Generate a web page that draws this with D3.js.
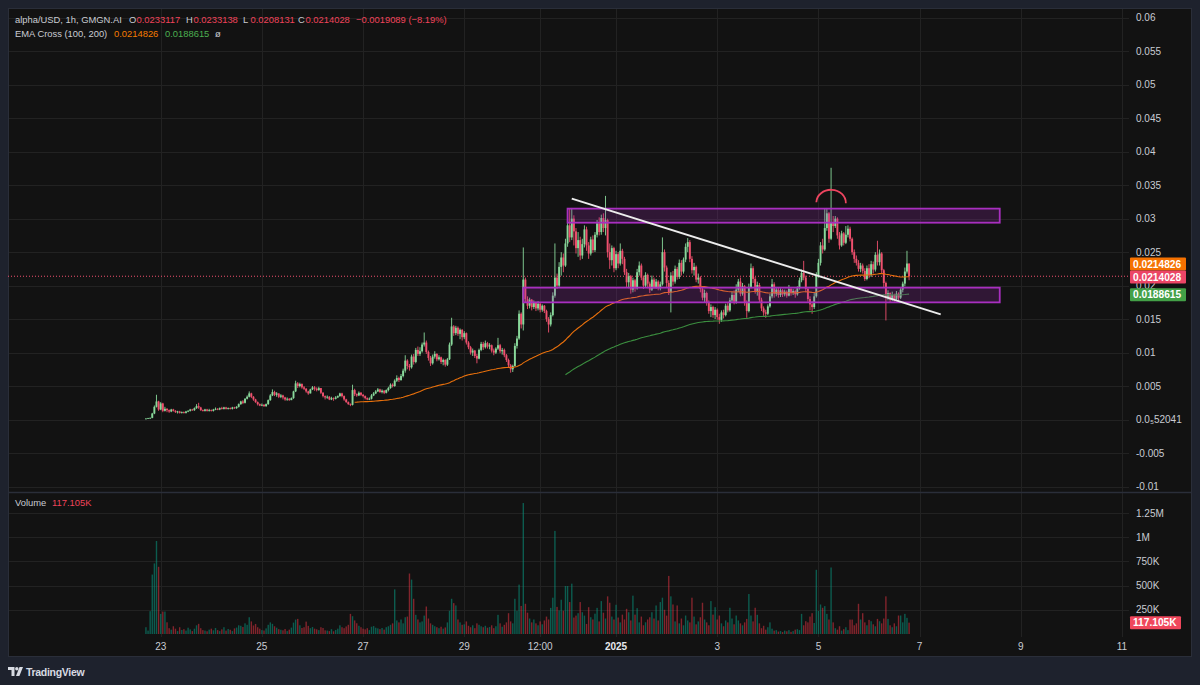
<!DOCTYPE html>
<html>
<head>
<meta charset="utf-8">
<script src="https://cdn.jsdelivr.net/npm/d3@7"></script>
<style>
  body { margin:0; background:#1e222d; }
  svg { display:block; }
  text { font-family: "Liberation Sans", Arial, sans-serif; }
</style>
</head>
<body>
<div id="chart"></div>
<script>
// CHART START
const width = 1200
const height = 685
const panel = {left:8, top:8, right:1191, bottom:656}
const plotRight = 1129
const pricePane = {top:8, bottom:492}
const volPane = {top:493, bottom:636}

// hourly candles, first one opens Dec 22 17:00 UTC; prices in 1/1000 USD
const firstBar = Date.UTC(2024, 11, 22, 17)
const firstOpenMilli = 0.1

const closeMilli = [
  0.15,0.2,0.25,0.9,1.9,2.7,1.5,2.4,1.3,1.6,
  1.4,1.2,1.5,1.3,1.1,1.2,1.0,1.1,1.0,1.2,
  1.3,1.5,1.4,1.7,2.0,1.8,1.4,1.3,1.5,1.3,
  1.4,1.3,1.5,1.6,1.5,1.7,1.6,1.8,1.6,1.7,
  1.6,1.8,1.7,1.9,2.3,2.7,2.5,3.1,3.4,3.9,
  3.4,3.0,2.6,2.3,2.1,2.2,2.0,2.3,2.9,3.6,
  4.1,3.7,3.9,3.4,3.6,3.3,3.0,3.1,2.9,3.2,
  4.2,5.4,5.0,5.3,4.8,4.6,4.2,3.9,4.5,4.8,
  4.6,4.4,4.7,4.0,3.5,3.3,3.4,3.0,3.2,3.1,
  3.3,3.5,3.9,3.5,3.0,2.6,2.3,2.2,4.4,3.8,
  3.6,4.0,3.7,3.5,3.2,3.0,3.1,3.6,3.9,4.2,
  4.5,4.1,4.3,4.0,4.4,4.7,5.2,5.0,5.8,6.2,
  5.9,6.5,7.3,8.8,8.0,7.8,9.4,8.6,10.4,9.8,
  10.2,11.2,11.5,10.1,9.2,8.4,9.4,9.8,9.0,9.3,
  8.6,8.9,8.2,9.0,11.2,13.9,12.9,13.7,12.8,13.4,
  12.3,12.9,11.5,10.8,10.0,10.3,9.5,9.1,10.4,11.3,
  10.8,11.4,10.9,11.1,10.3,10.0,10.6,11.1,10.2,10.4,
  9.6,8.9,8.1,7.5,8.0,11.0,12.1,15.8,14.2,20.9,
  18.0,17.0,17.9,16.8,17.4,16.6,17.3,16.4,17.0,16.2,
  15.0,14.2,15.6,18.5,21.2,20.0,22.8,24.2,23.0,26.3,
  29.0,27.2,30.0,28.1,25.6,26.8,24.5,26.2,28.4,26.0,
  24.8,26.9,25.3,27.6,29.3,28.0,30.1,28.6,29.8,25.0,
  23.8,25.6,22.6,24.7,23.3,25.2,24.0,22.0,20.5,21.4,
  19.4,20.8,19.6,22.0,23.0,21.2,20.0,21.6,20.3,19.4,
  20.9,19.8,20.6,19.6,20.2,25.0,22.7,20.4,19.0,21.5,
  20.6,22.5,21.3,23.4,22.1,23.9,25.8,26.5,24.0,22.3,
  22.8,20.9,21.2,19.5,18.2,18.9,17.4,16.2,16.8,15.6,
  16.4,15.3,14.9,16.0,15.6,17.0,16.3,17.8,18.6,17.6,
  19.4,20.6,18.8,19.9,17.5,16.2,19.8,22.6,21.0,19.2,
  20.1,17.9,16.6,16.0,15.8,16.9,18.4,20.2,18.8,19.4,
  18.6,19.3,18.7,19.1,18.5,19.5,18.9,19.2,18.7,19.6,
  20.8,21.9,21.2,19.5,18.0,17.2,16.8,18.4,21.5,23.4,
  26.0,25.4,28.6,30.8,27.0,29.5,28.9,30.0,27.5,26.0,
  27.8,26.4,27.6,28.5,27.0,25.0,24.0,23.4,22.5,23.0,
  22.2,21.0,22.6,21.6,23.2,22.4,24.6,23.5,24.8,22.3,
  20.4,18.3,18.9,17.9,18.6,18.0,18.8,18.2,19.4,20.3,22.1,23.3,21.4
]

const highMilli = [
  0.2,0.25,0.3,1.0,2.1,3.7,2.8,2.6,2.5,1.9,
  1.7,1.5,1.6,1.6,1.4,1.3,1.3,1.2,1.2,1.3,
  1.4,1.6,1.6,1.8,2.3,2.5,1.9,1.5,1.6,1.6,
  1.6,1.5,1.6,1.8,1.7,1.8,1.9,1.9,1.9,1.8,
  1.8,1.9,1.9,2.0,2.4,2.8,2.9,3.2,3.6,4.2,
  4.0,3.5,3.1,2.7,2.4,2.4,2.3,2.4,3.0,3.8,
  4.5,4.3,4.1,3.9,3.8,3.7,3.4,3.3,3.2,3.3,
  4.3,5.8,5.6,5.5,5.4,5.0,4.7,4.3,4.6,5.0,
  5.0,4.8,4.9,4.7,4.1,3.6,3.6,3.5,3.4,3.3,
  3.5,3.6,4.0,4.0,3.6,3.1,2.7,2.4,5.2,4.6,
  3.9,4.2,4.1,3.8,3.6,3.3,3.3,3.8,4.1,4.4,
  4.7,4.6,4.5,4.4,4.5,4.9,5.4,5.4,6.0,6.6,
  6.4,6.8,7.6,9.6,9.0,8.3,9.7,9.8,10.7,10.9,
  10.8,11.5,13.0,11.8,10.3,9.5,9.7,10.2,9.9,9.6,
  9.4,9.1,9.0,9.2,11.5,15.2,14.1,14.0,13.9,13.6,
  13.5,13.2,13.0,11.7,11.0,10.6,10.4,9.8,10.6,11.6,
  11.6,11.8,11.6,11.4,11.2,10.6,10.8,12.2,11.3,10.7,
  10.6,9.8,9.1,8.3,8.2,11.4,12.5,16.3,16.0,25.7,
  21.2,18.4,18.2,18.0,17.8,17.6,17.7,17.5,17.2,17.1,
  16.4,15.3,16.0,19.0,26.3,21.8,23.5,25.0,24.8,27.0,
  30.2,31.5,31.6,30.5,28.6,28.0,27.3,27.0,29.0,28.8,
  26.5,27.3,27.5,28.0,29.8,30.2,30.6,30.8,33.4,30.0,
  26.3,26.0,25.8,25.2,25.0,26.3,25.5,24.3,22.5,21.9,
  21.6,21.2,21.0,22.5,23.6,23.3,21.5,22.0,21.8,20.6,
  21.5,21.2,21.0,20.8,20.6,27.2,25.4,23.0,20.8,22.0,
  22.2,23.0,22.8,23.9,23.8,24.2,26.3,27.1,26.8,24.4,
  23.4,23.0,21.8,21.4,19.8,19.4,19.1,17.8,17.2,17.0,
  16.8,16.6,15.8,16.3,16.4,17.3,17.4,18.2,19.1,19.3,
  20.2,21.0,21.2,20.4,20.1,17.8,20.3,23.3,22.9,21.3,
  20.6,20.4,18.2,16.9,16.4,17.2,18.8,21.0,20.5,19.8,
  19.7,19.6,19.5,19.4,19.3,20.1,19.7,19.5,19.4,19.9,
  21.2,22.4,23.7,21.5,19.8,18.4,17.7,18.9,22.0,24.0,
  26.5,27.0,31.5,31.6,31.0,37.6,30.4,30.4,30.2,28.0,
  28.2,28.0,28.9,29.0,28.8,27.2,25.4,24.5,23.8,23.4,
  23.3,22.6,23.0,23.2,23.7,23.6,25.0,26.7,25.4,25.0,
  22.5,20.6,19.3,19.0,19.1,18.8,19.2,19.0,19.7,20.6,22.7,25.2,23.31
]

const lowMilli = [
  0.1,0.15,0.15,0.2,0.8,1.8,1.3,1.4,1.1,1.2,
  1.1,1.0,1.1,1.2,1.0,0.9,0.9,0.9,0.9,0.9,
  1.1,1.2,1.3,1.3,1.6,1.6,1.3,1.2,1.2,1.2,
  1.2,1.2,1.2,1.4,1.4,1.4,1.5,1.5,1.5,1.5,
  1.5,1.5,1.6,1.6,1.8,2.2,2.3,2.4,3.0,3.3,
  3.2,2.8,2.5,2.1,2.0,2.0,1.9,1.9,2.2,2.8,
  3.5,3.5,3.4,3.2,3.2,3.0,2.8,2.8,2.8,2.9,
  3.1,4.1,4.7,4.8,4.6,4.4,4.0,3.7,3.9,4.4,
  4.3,4.2,4.3,3.8,3.3,3.0,3.1,2.9,2.9,2.8,
  3.0,3.2,3.4,3.3,2.8,2.5,2.2,2.0,2.1,3.5,
  3.4,3.5,3.5,3.3,3.0,2.9,2.9,3.0,3.5,3.8,
  4.1,4.0,3.9,3.8,3.9,4.2,4.6,4.8,4.9,5.6,
  5.6,5.8,6.3,7.0,7.5,7.3,7.6,8.2,8.4,9.5,
  9.5,10.0,10.9,9.8,8.8,8.0,8.2,9.1,8.7,8.8,
  8.3,8.1,7.9,8.0,8.9,11.0,12.5,12.6,12.5,12.0,
  11.8,12.0,11.2,10.5,9.7,9.5,9.2,8.4,9.0,10.2,
  10.4,10.6,10.6,10.5,10.0,9.6,9.8,10.4,9.9,9.7,
  9.3,8.6,7.8,7.0,7.1,7.9,10.6,11.9,13.6,13.3,
  17.5,16.5,16.6,16.3,16.5,16.2,16.3,16.0,16.1,15.9,
  14.6,13.0,13.9,15.4,18.2,19.5,19.8,21.5,22.0,22.8,
  25.8,26.5,26.8,26.0,24.8,24.3,23.8,24.0,25.7,25.2,
  24.0,24.5,24.9,25.0,27.2,27.5,27.6,28.0,27.5,24.2,
  22.5,23.0,22.0,22.3,22.6,23.0,23.2,21.6,19.8,19.6,
  18.8,19.0,19.1,19.4,21.5,20.8,19.5,19.7,19.6,18.9,
  19.2,19.5,19.5,19.3,19.3,20.0,22.1,19.8,18.6,16.0,
  20.0,20.3,20.9,21.0,21.5,21.8,23.5,25.0,23.5,21.8,
  21.5,20.5,20.3,19.0,17.8,17.5,17.0,15.8,15.3,15.2,
  15.0,14.9,14.3,14.6,15.1,15.4,16.0,16.1,17.4,17.2,
  17.3,19.0,18.4,18.5,17.0,15.2,16.0,19.6,20.4,18.8,
  18.5,17.4,16.2,15.5,15.2,15.6,16.7,18.1,18.2,18.4,
  18.2,18.3,18.3,18.4,18.2,18.4,18.5,18.6,18.2,18.5,
  19.4,20.5,20.8,19.0,17.6,16.3,15.8,16.5,18.2,21.2,
  23.0,24.8,25.2,28.2,26.4,26.8,28.0,28.6,27.0,25.4,
  25.8,26.0,26.2,27.2,26.6,24.6,23.4,23.0,22.1,22.0,
  21.8,20.7,20.8,21.1,21.3,21.8,22.1,23.0,23.0,21.8,
  19.8,14.8,17.8,17.5,17.7,17.6,17.8,17.8,18.0,19.0,19.9,21.8,20.81
]

// volume per candle, in thousands
const volumeK = [
  70,35,236,614,729,961,694,208,232,232,121,
  60,45,80,55,30,70,42,50,35,65,
  48,30,55,90,105,60,40,35,28,45,
  55,38,62,40,30,48,70,35,52,44,
  30,58,66,90,85,72,110,95,173,130,
  88,104,70,55,40,36,58,95,120,105,
  80,65,50,44,38,52,30,45,66,118,
  149,156,90,62,70,128,84,60,72,55,
  48,40,70,62,38,35,30,50,28,42,
  55,90,70,60,78,95,208,184,140,111,
  85,70,55,48,60,40,75,82,65,58,
  50,62,45,70,80,95,110,
  461,
  140,120,150,110,173,180,625,562,364,198,150,120,
  130,190,284,160,110,95,80,70,60,75,
  55,68,120,240,364,319,295,150,120,95,
  100,130,85,70,90,60,110,95,80,70,
  85,65,72,90,60,80,198,110,75,95,
  120,215,130,110,364,240,510,290,1353,312,
  220,160,120,150,110,90,130,100,140,180,
  150,270,375,1065,280,243,354,240,496,496,
  330,520,170,190,215,330,225,190,104,277,
  173,150,210,270,130,340,220,160,389,323,
  180,150,302,170,120,200,150,260,225,140,
  396,200,267,120,180,90,121,150,173,225,
  160,295,140,330,375,250,190,600,389,305,
  130,295,110,160,90,191,140,120,375,180,
  100,130,173,323,150,120,90,340,200,277,
  150,191,110,80,140,120,271,160,100,191,
  140,110,90,120,156,413,191,130,271,198,
  110,60,85,45,70,120,55,35,40,25,
  30,20,35,28,40,22,30,45,50,40,
  208,90,132,120,180,215,114,663,240,305,
  271,288,208,150,687,120,60,45,80,35,
  50,70,40,149,149,90,110,312,150,215,
  120,90,146,132,100,80,156,132,110,160,
  389,156,90,70,110,80,191,191,120,208,167,117.105
]

// axis ticks
const priceTicks = [0.06,0.055,0.05,0.045,0.04,0.035,0.03,0.025,0.02,0.015,0.01,0.005,0,-0.005,-0.01]
const priceTickLabels = ["0.06","0.055","0.05","0.045","0.04","0.035","0.03","0.025","0.02","0.015","0.01","0.005","0.0\u208552041","-0.005","-0.01"]
const volTicks = [1250,1000,750,500,250]
const volTickLabels = ["1.25M","1M","750K","500K","250K"]
const timeTicks = [
  Date.UTC(2024,11,23), Date.UTC(2024,11,25), Date.UTC(2024,11,27), Date.UTC(2024,11,29),
  Date.UTC(2024,11,30,12), Date.UTC(2025,0,1), Date.UTC(2025,0,3), Date.UTC(2025,0,5),
  Date.UTC(2025,0,7), Date.UTC(2025,0,9), Date.UTC(2025,0,11)
]
const timeTickLabels = ["23","25","27","29","12:00","2025","3","5","7","9","11"]

// legend readouts
const headerTitle = "alpha/USD, 1h, GMGN.AI"
const headerOHLC = [["O","0.0233117"],["H","0.0233138"],["L","0.0208131"],["C","0.0214028"]]
const headerChange = "\u22120.0019089 (\u22128.19%)"
const emaNames = "EMA Cross (100, 200)"
const emaLast = ["0.0214826","0.0188615"]
const lastClose = "0.0214028"
const lastVolume = "117.105K"

// drawings (time, price)
const zones = [
  {t0:Date.UTC(2024,11,31,1), t1:Date.UTC(2025,0,8,14), p0:0.0315, p1:0.0294},
  {t0:Date.UTC(2024,11,30,4), t1:Date.UTC(2025,0,8,14), p0:0.0197, p1:0.0175}
]
const trendLine = [[Date.UTC(2024,11,31,3),0.0330],[Date.UTC(2025,0,7,10),0.0157]]
const topArc = [[Date.UTC(2025,0,4,23),0.03245],[Date.UTC(2025,0,5,13),0.0323]]

// colors
const upColor = "#89d99b"
const downColor = "#f0506e"
const textColor = "#c9ccd3"
const gridColor = "#222222"

// build the candles
const bars = closeMilli.map((c, i) => ({
  t: new Date(firstBar + i*3600000),
  o: (i === 0 ? firstOpenMilli : closeMilli[i-1]) / 1000,
  h: highMilli[i] / 1000,
  l: lowMilli[i] / 1000,
  c: c / 1000,
  v: volumeK[i]
}))

// EMA seeded with SMA like TradingView
function ema(values, len) {
  const k = 2/(len+1)
  let prev = null
  return values.map((v, i) => {
    if (i < len-1) return null
    if (i === len-1) prev = d3.mean(values.slice(0, len))
    else prev = k*v + (1-k)*prev
    return prev
  })
}
const closes = bars.map(d => d.c)
const ema100 = ema(closes, 100)
const ema200 = ema(closes, 200)

const svg = d3.select("#chart")
  .append("svg")
  .attr("width", width)
  .attr("height", height)

svg.append("rect").attr("width", width).attr("height", height).attr("fill", "#1e222d")
svg.append("rect")
  .attr("x", panel.left + 0.5).attr("y", panel.top + 0.5)
  .attr("width", panel.right - panel.left).attr("height", panel.bottom - panel.top)
  .attr("fill", "#121212").attr("stroke", "#2a2e39")

// scales
const x = d3.scaleUtc()
  .domain([new Date(Date.UTC(2024,11,23)), new Date(Date.UTC(2025,0,11))])
  .range([160.7, 1122])
const y = d3.scaleLinear().domain([-0.01, 0.06]).range([486.5, 17.8])
const yVol = d3.scaleLinear().domain([0, 1250]).range([634, 513])

const defs = svg.append("defs")
defs.append("clipPath").attr("id", "clipPrice").append("rect")
  .attr("x", panel.left).attr("y", pricePane.top).attr("width", plotRight - panel.left).attr("height", pricePane.bottom - pricePane.top)
defs.append("clipPath").attr("id", "clipVol").append("rect")
  .attr("x", panel.left).attr("y", volPane.top).attr("width", plotRight - panel.left).attr("height", volPane.bottom - volPane.top)

// grid
const gridGroup = svg.append("g")
gridGroup.selectAll(".hgrid").data(priceTicks).join("line")
  .attr("x1", panel.left + 1).attr("x2", plotRight)
  .attr("y1", d => Math.round(y(d)) + 0.5).attr("y2", d => Math.round(y(d)) + 0.5)
  .attr("stroke", gridColor)
gridGroup.selectAll(".vgrid").data(volTicks).join("line")
  .attr("x1", panel.left + 1).attr("x2", plotRight)
  .attr("y1", d => Math.round(yVol(d)) + 0.5).attr("y2", d => Math.round(yVol(d)) + 0.5)
  .attr("stroke", gridColor)
gridGroup.selectAll(".tgrid").data(timeTicks).join("line")
  .attr("x1", d => Math.round(x(d)) + 0.5).attr("x2", d => Math.round(x(d)) + 0.5)
  .attr("y1", panel.top + 1).attr("y2", volPane.bottom + 1)
  .attr("stroke", gridColor)

// pane separator
svg.append("line")
  .attr("x1", panel.left + 1).attr("x2", panel.right)
  .attr("y1", pricePane.bottom + 0.5).attr("y2", pricePane.bottom + 0.5)
  .attr("stroke", "#2a2e39").attr("stroke-width", 1.5)

const priceGroup = svg.append("g").attr("clip-path", "url(#clipPrice)")
const volGroup = svg.append("g").attr("clip-path", "url(#clipVol)")

// last price dotted line
priceGroup.append("line")
  .attr("x1", panel.left).attr("x2", plotRight)
  .attr("y1", y(+lastClose)).attr("y2", y(+lastClose))
  .attr("stroke", "#f0506e").attr("stroke-dasharray", "1,2")

// volume bars
const vColor = d => d.c >= d.o ? "rgba(8,153,129,0.55)" : "rgba(242,54,69,0.5)"
volGroup.selectAll("rect").data(bars).join("rect")
  .attr("x", d => x(d.t) - 0.7)
  .attr("width", 1.4)
  .attr("y", d => yVol(d.v))
  .attr("height", d => yVol(0) - yVol(d.v))
  .attr("fill", vColor)

// candles
const candle = priceGroup.selectAll(".candle").data(bars).join("g")
candle.append("line")
  .attr("x1", d => x(d.t)).attr("x2", d => x(d.t))
  .attr("y1", d => y(Math.max(d.h, d.o, d.c))).attr("y2", d => y(Math.min(d.l, d.o, d.c)))
  .attr("stroke", d => d.c >= d.o ? upColor : downColor).attr("stroke-width", 0.9)
candle.append("rect")
  .attr("x", d => x(d.t) - 0.95)
  .attr("width", 1.9)
  .attr("y", d => y(Math.max(d.o, d.c)))
  .attr("height", d => Math.max(0.8, Math.abs(y(d.o) - y(d.c))))
  .attr("fill", d => d.c >= d.o ? upColor : downColor)

// EMA lines
const emaLine = series => d3.line()
  .defined((d, i) => series[i] !== null)
  .x(d => x(d.t))
  .y((d, i) => y(series[i]))
priceGroup.append("path").datum(bars).attr("d", emaLine(ema100))
  .attr("fill", "none").attr("stroke", "#e8700c").attr("stroke-width", 1.1)
priceGroup.append("path").datum(bars).attr("d", emaLine(ema200))
  .attr("fill", "none").attr("stroke", "#3b8e3f").attr("stroke-width", 1.1)

// drawings
priceGroup.selectAll(".zone").data(zones).join("rect")
  .attr("x", d => x(d.t0)).attr("width", d => x(d.t1) - x(d.t0))
  .attr("y", d => y(d.p0)).attr("height", d => y(d.p1) - y(d.p0))
  .attr("fill", "rgba(156,39,176,0.22)").attr("stroke", "#a82fbf").attr("stroke-width", 1.8)
priceGroup.append("line")
  .attr("x1", x(trendLine[0][0])).attr("y1", y(trendLine[0][1]))
  .attr("x2", x(trendLine[1][0])).attr("y2", y(trendLine[1][1]))
  .attr("stroke", "#ececec").attr("stroke-width", 2)
const a0 = [x(topArc[0][0]), y(topArc[0][1])]
const a1 = [x(topArc[1][0]), y(topArc[1][1])]
priceGroup.append("path")
  .attr("d", `M${a0[0]},${a0[1]} A${(a1[0]-a0[0])/2},13 0 0 1 ${a1[0]},${a1[1]}`)
  .attr("fill", "none").attr("stroke", "#ee4560").attr("stroke-width", 1.8)

// price axis labels
const axisGroup = svg.append("g").attr("font-size", "10px").attr("fill", textColor)
axisGroup.selectAll(".plabel").data(priceTicks).join("text")
  .attr("x", 1136).attr("y", d => y(d)).attr("dy", "0.35em")
  .text((d, i) => priceTickLabels[i])
axisGroup.selectAll(".vlabel").data(volTicks).join("text")
  .attr("x", 1136).attr("y", d => yVol(d)).attr("dy", "0.35em")
  .text((d, i) => volTickLabels[i])
axisGroup.selectAll(".tlabel").data(timeTicks).join("text")
  .attr("x", d => x(d)).attr("y", 646).attr("dy", "0.35em")
  .attr("text-anchor", "middle")
  .attr("font-weight", (d, i) => timeTickLabels[i] === "2025" ? "bold" : "normal")
  .attr("fill", (d, i) => timeTickLabels[i] === "2025" ? "#e6e8ee" : textColor)
  .text((d, i) => timeTickLabels[i])

// price badges
function badge(yc, txt, color, w) {
  svg.append("rect").attr("x", 1130).attr("y", yc - 6.5).attr("width", w).attr("height", 13)
    .attr("rx", 1).attr("fill", color)
  svg.append("text").attr("x", 1133).attr("y", yc).attr("dy", "0.36em")
    .attr("font-size", "10.2px").attr("font-weight", "bold").attr("fill", "#ffffff").text(txt)
}
const redY = y(+lastClose) + 0.8
badge(redY - 13, emaLast[0], "#f57100", 56)
badge(redY, lastClose, "#ec4566", 56)
badge(y(+emaLast[1]) + 1.5, emaLast[1], "#43a047", 56)
badge(yVol(volumeK[volumeK.length-1]), lastVolume, "#f0475c", 51)

// legend
const legend = svg.append("g").attr("font-size", "9.4px")
function legendText(x0, y0, txt, color) {
  legend.append("text").attr("x", x0).attr("y", y0).attr("fill", color).text(txt)
}
legendText(15, 23, headerTitle, textColor)
headerOHLC.forEach((d, i) => {
  const x0 = [129, 186, 243, 298][i]
  legendText(x0, 23, d[0], textColor)
  legendText(x0 + 7.5, 23, d[1], "#f0435a")
})
legendText(356, 23, headerChange, "#f0435a")
legendText(15, 36.5, emaNames, textColor)
legendText(114, 36.5, emaLast[0], "#f57c00")
legendText(165, 36.5, emaLast[1], "#4caf50")
legendText(215, 36.5, "\u00f8", textColor)
legendText(15, 505.5, "Volume", textColor)
legendText(52, 505.5, lastVolume, "#f0435a")

// TradingView mark
const logo = svg.append("g").attr("fill", "#d8dbe2")
logo.append("path").attr("d", "M8,667 h6.5 v9 h-3 v-6 h-3.5 z")
logo.append("circle").attr("cx", 16.8).attr("cy", 668.8).attr("r", 1.7)
logo.append("path").attr("d", "M19.5,667 h3.5 l-3.6,9 h-3.4 z")
svg.append("text").attr("x", 26).attr("y", 675.5).attr("font-size", "10.5px")
  .attr("fill", "#d8dbe2").attr("font-weight", "bold").attr("letter-spacing", "-0.3")
  .text("TradingView")
</script>
</body>
</html>
